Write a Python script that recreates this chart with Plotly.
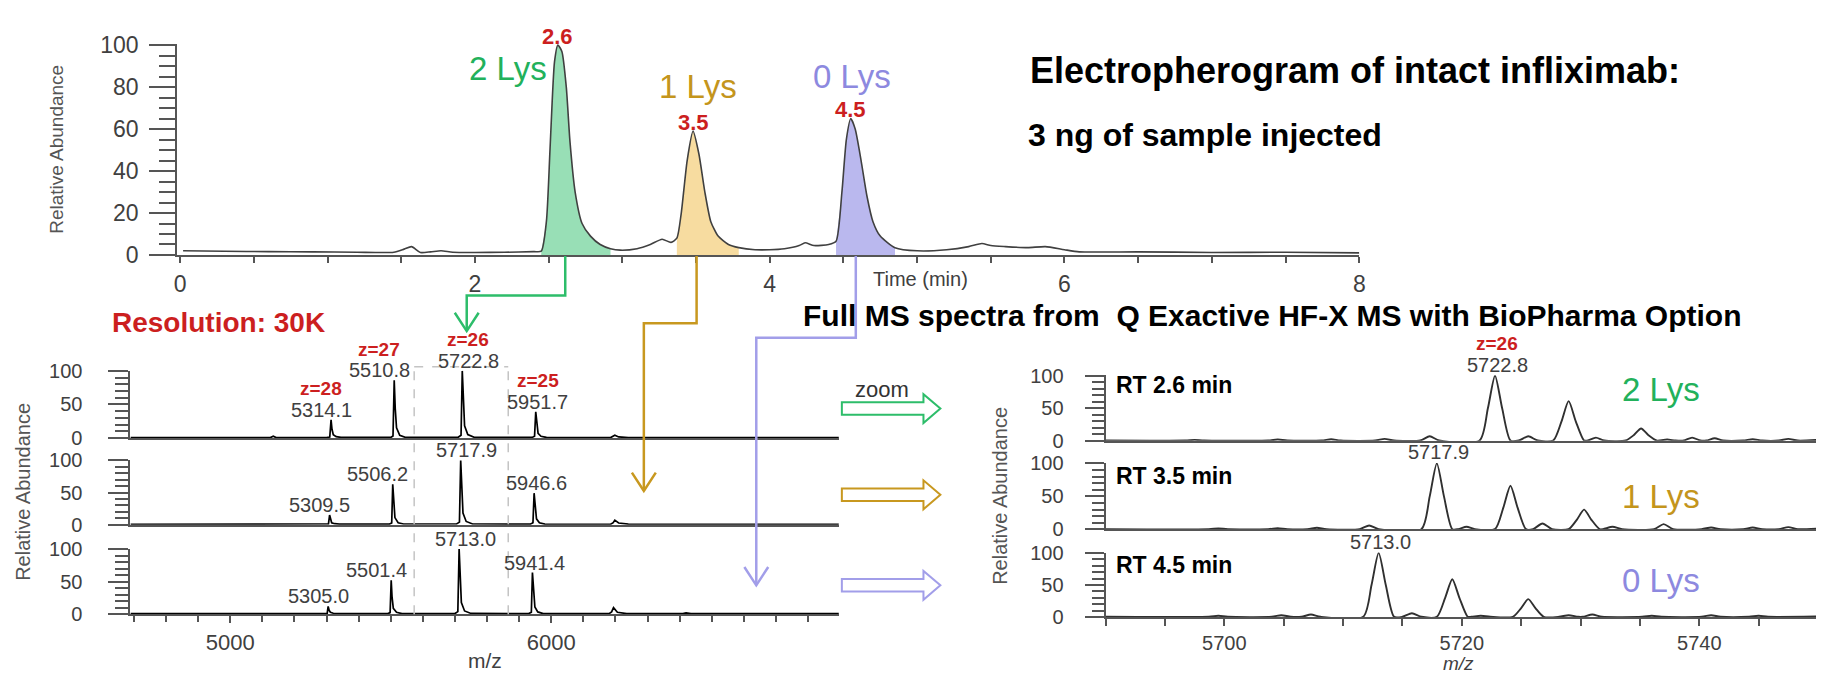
import plotly.graph_objects as go

W, H = 1824, 685
OFF = 8  # the page body adds an 8 px margin round the figure
FONT = "Liberation Sans, Arial, sans-serif"

# --- electropherogram (time in min, relative abundance) ---
rt_min = [0.02, 0.3, 0.6, 0.9, 1.2, 1.45, 1.52, 1.57, 1.63, 1.7,
          1.77, 1.85, 2.0, 2.2, 2.4, 2.45, 2.485, 2.51, 2.54, 2.563,
          2.59, 2.62, 2.645, 2.68, 2.727, 2.784, 2.85, 2.92, 2.986, 3.1,
          3.19, 3.27, 3.33, 3.37, 3.40, 3.44, 3.48, 3.52, 3.56, 3.60,
          3.65, 3.72, 3.79, 3.9, 4.0, 4.1, 4.2, 4.24, 4.3, 4.4,
          4.45, 4.49, 4.52, 4.55, 4.58, 4.62, 4.66, 4.70, 4.75, 4.85,
          5.0, 5.2, 5.35, 5.44, 5.5, 5.6, 5.75, 5.87, 6.0, 6.1,
          6.5, 7.0, 7.5, 8.0]
rel_abund = [2.0, 1.8, 1.6, 1.5, 1.3, 1.3, 2.8, 4.0, 1.2, 1.5,
             2.0, 1.3, 1.2, 1.3, 1.6, 1.8, 16, 51, 92, 100,
             97, 80, 54, 30, 15, 9, 5, 3, 2.3, 3.0,
             5.0, 7.5, 6.0, 8.0, 20, 45, 59, 48, 30, 16,
             9, 5, 3.5, 2.5, 2.5, 3.0, 4.5, 5.8, 4.5, 5.0,
             6.5, 30, 55, 65, 60, 45, 28, 16, 9, 3.5,
             2.0, 2.5, 4.0, 5.5, 4.5, 4.0, 3.5, 4.0, 2.5, 1.5,
             1.5, 1.2, 1.3, 1.0]
peak_rt = [2.563, 3.48, 4.55]
peak_top = [100, 59, 65]
peak_tag = ["2.6", "3.5", "4.5"]
lys_names = ["2 Lys", "1 Lys", "0 Lys"]
fill_start = [2.45, 3.37, 4.45]
fill_end = [2.92, 3.79, 4.85]

# --- full MS spectra, 3 retention times (m/z, relative abundance) ---
mz_a = [4689, 5125, 5134, 5143, 5300, 5310, 5314.1, 5317, 5321, 5330, 5345,
        5500, 5507, 5510.8, 5514, 5518, 5528, 5545,
        5710, 5719, 5722.8, 5726, 5730, 5740, 5760,
        5940, 5948, 5951.7, 5955, 5959, 5968, 5985,
        6185, 6193, 6198, 6210, 6240, 6896]
int_a = [0.5, 0.5, 2.5, 0.5, 0.5, 1.5, 27, 13, 5, 2, 0.8,
         0.8, 3, 86, 44, 15, 4, 1,
         1, 4, 100, 52, 18, 5, 1,
         0.8, 2.5, 39, 19, 7, 2.5, 0.8,
         0.6, 2, 4, 1.5, 0.6, 0.5]
mz_b = [4689, 5125, 5134, 5143, 5296, 5306, 5309.5, 5312, 5316, 5325, 5340,
        5496, 5503, 5506.2, 5509, 5513, 5523, 5540,
        5705, 5714, 5717.9, 5721, 5725, 5735, 5755,
        5935, 5943, 5946.6, 5950, 5954, 5963, 5980,
        6185, 6193, 6198, 6210, 6240, 6390, 6400, 6415, 6896]
int_b = [0.5, 0.5, 1.5, 0.5, 0.5, 1.2, 15, 8, 3, 1.5, 0.8,
         0.8, 2.5, 63, 33, 11, 3, 1,
         1, 4, 100, 52, 18, 5, 1,
         0.8, 3, 49, 25, 9, 3, 0.8,
         0.6, 3, 7, 2.5, 0.8, 0.6, 1.5, 0.6, 0.5]
mz_c = [4689, 5125, 5134, 5143, 5292, 5302, 5305.0, 5308, 5312, 5321, 5336,
        5491, 5498, 5501.4, 5504, 5508, 5518, 5535,
        5700, 5709, 5713.0, 5716, 5720, 5730, 5750,
        5930, 5938, 5941.4, 5945, 5949, 5958, 5975,
        6180, 6188, 6194, 6206, 6235, 6410, 6420, 6435, 6896]
int_c = [0.8, 0.8, 1.5, 0.8, 0.8, 1.2, 12, 6, 3, 1.5, 1,
         1, 2.5, 52, 27, 9, 3, 1,
         1, 4, 100, 52, 18, 5, 1.2,
         1, 3, 64, 32, 11, 3.5, 1,
         0.8, 3.5, 10, 3, 1, 0.8, 2, 0.8, 0.8]

full_peaks = [[5314.1, 5510.8, 5722.8, 5951.7],
              [5309.5, 5506.2, 5717.9, 5946.6],
              [5305.0, 5501.4, 5713.0, 5941.4]]
full_heights = [[27, 86, 100, 39], [15, 63, 100, 49], [12, 52, 100, 64]]
charges = ["z=28", "z=27", "z=26", "z=25"]
box_mz = [5573, 5866]

# --- zoomed spectra around z=26 ---
zmz_a = [5690,
         5696.7, 5697.5, 5698.3, 5703.7, 5704.5, 5705.3, 5708.2, 5709, 5709.8,
         5712.7, 5713.5, 5714.3, 5716.5, 5717.3, 5718.1,
         5721.5, 5722.2, 5722.8, 5723.4, 5724.1, 5724.8, 5725.6, 5726.4,
         5727.7, 5728.4, 5729.0, 5729.6, 5730.3, 5730.6, 5731.3, 5732.0,
         5733.8, 5734.5, 5735.1, 5735.7, 5736.4, 5736.6, 5737.3, 5738.0,
         5738.7, 5739.4, 5740.1, 5740.6, 5741.3, 5742.0,
         5743.7, 5744.5, 5745.3, 5746.7, 5747.5, 5748.3, 5750]
zint_a = [0.5,
          0.5, 1.5, 0.5, 0.5, 2, 0.5, 0.5, 2.5, 0.5,
          0.5, 3, 0.5, 0.5, 7, 0.5,
          0.5, 50, 100, 50, 0.5, 0.5, 7, 0.5,
          0.5, 30, 61, 30, 0.5, 0.5, 5, 0.5,
          0.5, 9, 19, 9, 0.5, 0.5, 2, 0.5,
          0.5, 5, 0.5, 0.5, 4, 0.5,
          0.5, 2.5, 0.5, 0.5, 3, 0.5, 1.5]
zmz_b = [5690,
         5698.7, 5699.5, 5700.3, 5703.7, 5704.5, 5705.3, 5707.0, 5707.8, 5708.6,
         5711.4, 5712.2, 5713.0,
         5716.6, 5717.3, 5717.9, 5718.5, 5719.2, 5719.7, 5720.4, 5721.1,
         5722.8, 5723.5, 5724.1, 5724.7, 5725.4, 5726.0, 5726.8, 5727.6,
         5729.0, 5729.7, 5730.3, 5730.9, 5731.6, 5731.9, 5732.7, 5733.5,
         5736.2, 5737.0, 5737.8, 5740.2, 5741.0, 5741.8,
         5743.7, 5744.5, 5745.3, 5746.7, 5747.5, 5748.3, 5750]
zint_b = [0.5,
          0.5, 1.5, 0.5, 0.5, 2, 0.5, 0.5, 2.5, 0.5,
          0.5, 6, 0.5,
          0.5, 50, 100, 50, 0.5, 0.5, 4, 0.5,
          0.5, 33, 66, 33, 0.5, 0.5, 9, 0.5,
          0.5, 15, 30, 15, 0.5, 0.5, 4, 0.5,
          0.5, 8, 0.5, 0.5, 3, 0.5,
          0.5, 3, 0.5, 0.5, 3.5, 0.5, 1.5]
zmz_c = [5690,
         5698.7, 5699.5, 5700.3, 5704.0, 5704.8, 5705.6, 5706.5, 5707.3, 5708.1,
         5711.7, 5712.4, 5713.0, 5713.6, 5714.3, 5715.0, 5715.8, 5716.6,
         5717.9, 5718.6, 5719.2, 5719.8, 5720.5, 5720.8, 5721.6, 5722.4,
         5724.3, 5725.0, 5725.6, 5726.2, 5726.9,
         5728.2, 5729.0, 5729.8, 5730.2, 5731.0, 5731.8,
         5735.2, 5736.0, 5736.8, 5740.2, 5741.0, 5741.8,
         5744.2, 5745.0, 5745.8, 5750]
zint_c = [0.5,
          0.5, 2, 0.5, 0.5, 3, 0.5, 0.5, 4, 0.5,
          0.5, 50, 100, 50, 0.5, 0.5, 6, 0.5,
          0.5, 30, 59, 30, 0.5, 0.5, 2, 0.5,
          0.5, 14, 28, 14, 0.5,
          0.5, 3, 0.5, 0.5, 4, 0.5,
          0.5, 2, 0.5, 0.5, 3, 0.5,
          0.5, 2, 0.5, 1]
zoom_peaks = [5722.8, 5717.9, 5713.0]
rt_labels = ["RT 2.6 min", "RT 3.5 min", "RT 4.5 min"]

# colours
GREEN, GOLD, PURPLE, RED = "#22b15b", "#c4951c", "#8d89df", "#cc1f1f"
LINE_COL = {"g": "#2dbd6a", "o": "#c8981f", "p": "#a29ee9"}
FILLS = ["#98dfb6", "#f7dca0", "#bab8ee"]
AX = "#555555"
TXT = "#404040"

FW, FH = W - OFF, H - OFF


def px(x):
    return (x - OFF) / FW


def py(y):
    return 1 - (y - OFF) / FH


def ydom(top, bottom):
    return [py(bottom), py(top)]


fig = go.Figure()

# electropherogram fills, then the trace
for k in range(3):
    xs = [t for t in rt_min if fill_start[k] <= t <= fill_end[k]]
    ys = [a for t, a in zip(rt_min, rel_abund) if fill_start[k] <= t <= fill_end[k]]
    fig.add_trace(go.Scatter(x=xs, y=ys, mode="lines", fill="tozeroy",
                             fillcolor=FILLS[k], line=dict(width=0, shape="spline", smoothing=0.6),
                             xaxis="x", yaxis="y", hoverinfo="skip"))
fig.add_trace(go.Scatter(x=rt_min, y=rel_abund, mode="lines",
                         line=dict(color="#404040", width=1.6, shape="spline", smoothing=0.6),
                         xaxis="x", yaxis="y"))

# full MS spectra
for i, (mx, iy) in enumerate([(mz_a, int_a), (mz_b, int_b), (mz_c, int_c)]):
    fig.add_trace(go.Scatter(x=mx, y=iy, mode="lines", line=dict(color="black", width=1.7),
                             xaxis=f"x{i + 2}", yaxis=f"y{i + 2}"))

# zoomed spectra
for i, (mx, iy) in enumerate([(zmz_a, zint_a), (zmz_b, zint_b), (zmz_c, zint_c)]):
    fig.add_trace(go.Scatter(x=mx, y=iy, mode="lines",
                             line=dict(color="#303030", width=1.9, shape="spline", smoothing=0.7),
                             xaxis=f"x{i + 5}", yaxis=f"y{i + 5}"))

tickfont = dict(family=FONT, size=20, color=TXT)
base_x = dict(showline=True, linecolor=AX, linewidth=2, showgrid=False, zeroline=False,
              tickfont=tickfont, tickcolor=AX)
base_y = dict(showline=True, linecolor=AX, linewidth=2, showgrid=False, zeroline=False,
              tickfont=tickfont, tickcolor=AX, ticks="outside", range=[0, 100.5])

layout = dict(
    width=FW, height=FH, margin=dict(l=0, r=0, t=0, b=0),
    paper_bgcolor="white", plot_bgcolor="white", showlegend=False,
    font=dict(family=FONT, color=TXT),
    xaxis=dict(base_x, domain=[px(175), px(1363)], range=[-0.02, 8.0], anchor="y",
               ticks="outside", ticklen=6, tickwidth=1.5, dtick=2, tick0=0,
               minor=dict(dtick=0.5, ticks="outside", ticklen=6, tickwidth=1.5, tickcolor=AX),
               ticklabelstandoff=1, tickfont=dict(tickfont, size=23)),
    yaxis=dict(base_y, domain=ydom(33, 252), anchor="x", dtick=20, ticklen=26, tickwidth=1.5,
               minor=dict(dtick=5, ticks="outside", ticklen=16, tickwidth=1.5, tickcolor=AX),
               ticklabelstandoff=6, tickfont=dict(tickfont, size=23)),
)

left_dom = [(372, 442), (465, 532), (557, 625)]
right_dom = [(377, 445), (468, 537), (561, 628)]
for i in range(3):
    n = i + 2
    last = i == 2
    layout[f"xaxis{n}"] = dict(base_x, domain=[px(128), px(840)], range=[4689, 6896], anchor=f"y{n}",
                               ticks="outside" if last else "", ticklen=7, tickwidth=1.5,
                               dtick=1000, tick0=0, showticklabels=last,
                               tickfont=dict(tickfont, size=22),
                               minor=dict(dtick=100, ticks="outside" if last else "", ticklen=6,
                                          tickwidth=1.5, tickcolor=AX))
    layout[f"yaxis{n}"] = dict(base_y, domain=ydom(*left_dom[i]), anchor=f"x{n}", dtick=50,
                               ticklen=20, tickwidth=1.5, ticklabelstandoff=22,
                               minor=dict(dtick=10, ticks="outside", ticklen=13, tickwidth=1.5,
                                          tickcolor=AX))
    n = i + 5
    layout[f"xaxis{n}"] = dict(base_x, domain=[px(1108), 1.0], range=[5690, 5750], anchor=f"y{n}",
                               ticks="outside" if last else "", ticklen=7, tickwidth=1.5,
                               dtick=20, tick0=5700, showticklabels=last,
                               minor=dict(dtick=5, ticks="outside" if last else "", ticklen=7,
                                          tickwidth=1.5, tickcolor=AX))
    layout[f"yaxis{n}"] = dict(base_y, domain=ydom(*right_dom[i]), anchor=f"x{n}", dtick=50,
                               ticklen=19, tickwidth=1.5, ticklabelstandoff=17,
                               minor=dict(dtick=10, ticks="outside", ticklen=12, tickwidth=1.5,
                                          tickcolor=AX))

fig.update_layout(**layout)

ann = []


def note(x, y, s, size, color, bold=False, xanchor="center", angle=0, italic=False):
    if bold:
        s = f"<b>{s}</b>"
    if italic:
        s = f"<i>{s}</i>"
    ann.append(dict(x=px(x), y=py(y), xref="paper", yref="paper", text=s, showarrow=False,
                    xanchor=xanchor, yanchor="middle", textangle=angle,
                    font=dict(family=FONT, size=size, color=color)))


# titles and free text
note(1030, 60, "Electropherogram of intact infliximab:", 36, "black", bold=True, xanchor="left")
note(1028, 127, "3 ng of sample injected", 32, "black", bold=True, xanchor="left")
note(802, 315, "Full MS spectra from\u00a0 Q Exactive HF-X MS with BioPharma Option", 30, "black",
     bold=True, xanchor="left")
note(107, 322, "Resolution: 30K", 28, RED, bold=True, xanchor="left")
note(53, 142, "Relative Abundance", 19, "#555555", angle=-90)
note(20, 498, "Relative Abundance", 20, "#555555", angle=-90)
note(1002, 502, "Relative Abundance", 20, "#555555", angle=-90)
note(922, 277, "Time (min)", 20, TXT)
note(484, 673, "m/z", 21, TXT)
note(1463, 676, "m/z", 19, TXT, italic=True)
note(883, 392, "zoom", 22, "#333333")

# Lys labels
lys_cols = [GREEN, GOLD, PURPLE]
for (x, y), s, c in zip([(507, 58), (698, 77), (853, 67)], lys_names, lys_cols):
    note(x, y, s, 33, c)
for y, s, c in zip([392, 503, 590], lys_names, lys_cols):
    note(1666, y, s, 33, c)
for y, s in zip([387, 481, 574], rt_labels):
    note(1116, y, s, 23, "black", bold=True, xanchor="left")

# electropherogram apex labels
for t, v, s in zip(peak_rt, peak_top, peak_tag):
    ann.append(dict(x=t, y=v, xref="x", yref="y", text=f"<b>{s}</b>", showarrow=False,
                    yanchor="middle", yshift=9, font=dict(family=FONT, size=22, color=RED)))

# full MS peak labels
label_dx = [-10, -15, 6, 2]
for i in range(3):
    for j, (m, h) in enumerate(zip(full_peaks[i], full_heights[i])):
        ann.append(dict(x=m, y=h, xref=f"x{i + 2}", yref=f"y{i + 2}", text=f"{m:.1f}",
                        showarrow=False, yanchor="middle", yshift=10, xshift=label_dx[j],
                        font=dict(family=FONT, size=20, color=TXT)))
        if i == 0:
            ann.append(dict(x=m, y=h, xref="x2", yref="y2", text=f"<b>{charges[j]}</b>",
                            showarrow=False, yanchor="middle", yshift=31, xshift=label_dx[j],
                            font=dict(family=FONT, size=19, color=RED)))

# zoomed peak labels
for i, m in enumerate(zoom_peaks):
    ann.append(dict(x=m, y=100, xref=f"x{i + 5}", yref=f"y{i + 5}", text=f"{m:.1f}",
                    showarrow=False, yanchor="middle", yshift=11, xshift=2,
                    font=dict(family=FONT, size=20, color=TXT)))
ann.append(dict(x=zoom_peaks[0], y=100, xref="x5", yref="y5", text="<b>z=26</b>", showarrow=False,
                yanchor="middle", yshift=32, xshift=2, font=dict(family=FONT, size=19, color=RED)))

fig.update_layout(annotations=ann)

shapes = []


def path(points, color, width, closed=False):
    d = "M " + " L ".join(f"{px(x):.5f},{py(y):.5f}" for x, y in points)
    if closed:
        d += " Z"
    shapes.append(dict(type="path", path=d, xref="paper", yref="paper",
                       line=dict(color=color, width=width)))


# connectors from peaks to spectra
connectors = [
    ([(565, 253), (565, 294), (466, 294), (466, 331)], LINE_COL["g"]),
    ([(697, 253), (697, 323), (644, 323), (644, 497)], LINE_COL["o"]),
    ([(857, 253), (857, 338), (757, 338), (757, 595)], LINE_COL["p"]),
]
for pts, col in connectors:
    path(pts, col, 2.5)
    tx, ty = pts[-1]
    path([(tx - 12, ty - 19), (tx, ty), (tx + 12, ty - 19)], col, 2.5)

# hollow "zoom" arrows
for yc, col in zip([411.5, 501, 595], [LINE_COL["g"], LINE_COL["o"], LINE_COL["p"]]):
    path([(843, yc - 6.5), (925, yc - 6.5), (925, yc - 15), (942, yc), (925, yc + 15),
          (925, yc + 6.5), (843, yc + 6.5)], col, 2, closed=True)

# dashed box marking the z=26 region
for m in box_mz:
    shapes.append(dict(type="line", xref="x4", yref="paper", x0=m, x1=m, y0=py(625), y1=py(368),
                       line=dict(color="#c4c4c4", width=1.5, dash="dash")))
shapes.append(dict(type="line", xref="x4", yref="paper", x0=box_mz[0], x1=box_mz[1], y0=py(368),
                   y1=py(368), line=dict(color="#c4c4c4", width=1.5, dash="dash")))

fig.update_layout(shapes=shapes)
fig.write_html("out.html")
